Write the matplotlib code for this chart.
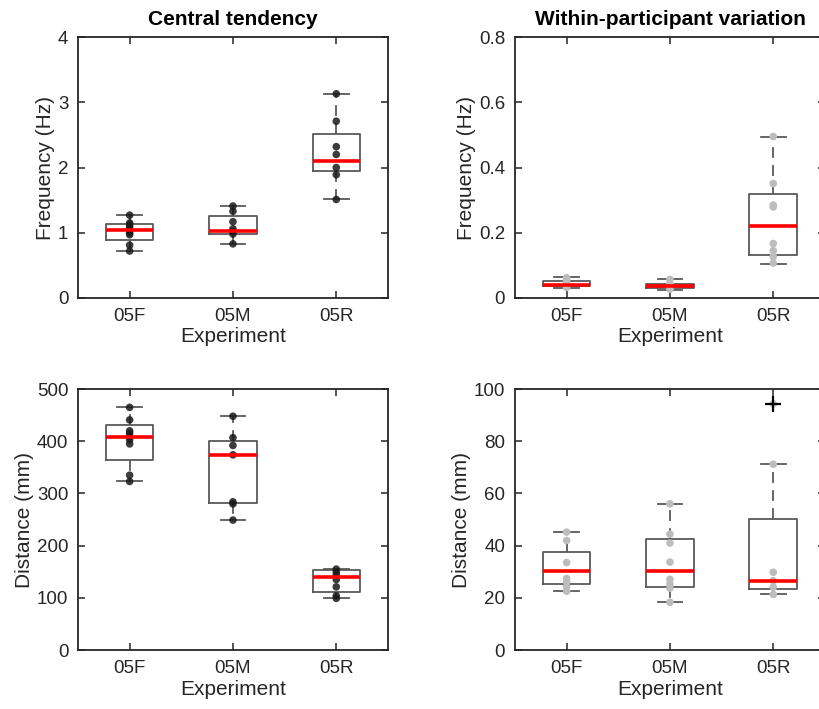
import matplotlib
matplotlib.use('Agg')
from matplotlib import pyplot as plt
import numpy as np

plt.rcParams['font.family'] = ['Liberation Sans', 'DejaVu Sans']

labels = ['05F', '05M', '05R']

# top-left: frequency, central tendency
freq_pts = [[1.27, 1.15, 1.12, 1.08, 1.04, 1.00, 0.97, 0.81, 0.72],
            [1.41, 1.33, 1.17, 1.06, 1.02, 0.98, 0.83],
            [3.13, 2.71, 2.32, 2.20, 2.00, 1.89, 1.51]]
freq_lo = [0.715, 0.83, 1.51]
freq_q1 = [0.89, 0.975, 1.94]
freq_med = [1.05, 1.02, 2.10]
freq_q3 = [1.13, 1.26, 2.51]
freq_hi = [1.28, 1.41, 3.13]

# top-right: frequency, within-participant variation
fvar_pts = [[0.062, 0.055, 0.045, 0.038, 0.032],
            [0.057, 0.045, 0.038, 0.033, 0.027],
            [0.495, 0.351, 0.285, 0.279, 0.167, 0.145, 0.127, 0.107]]
fvar_lo = [0.030, 0.025, 0.105]
fvar_q1 = [0.036, 0.030, 0.131]
fvar_med = [0.041, 0.038, 0.222]
fvar_q3 = [0.053, 0.044, 0.318]
fvar_hi = [0.063, 0.058, 0.495]

# bottom-left: distance, central tendency
dist_pts = [[465, 441, 420, 415, 409, 403, 395, 335, 323],
            [448, 407, 392, 374, 284, 280, 249],
            [155, 150, 144, 135, 121, 104, 99]]
dist_lo = [323, 249, 99]
dist_q1 = [365, 282, 112]
dist_med = [409, 374, 139]
dist_q3 = [431, 400, 153]
dist_hi = [465, 448, 155]

# bottom-right: distance, within-participant variation
dvar_pts = [[45.2, 42.0, 33.5, 27.4, 26.1, 24.2, 22.5],
            [56.0, 44.4, 41.0, 33.7, 27.1, 25.3, 23.7, 18.3],
            [94.4, 71.2, 29.8, 26.6, 24.1, 21.3]]
dvar_lo = [22.5, 18.3, 21.3]
dvar_q1 = [25.3, 24.3, 23.4]
dvar_med = [30.3, 30.3, 26.6]
dvar_q3 = [37.6, 42.6, 50.3]
dvar_hi = [45.2, 56.0, 71.2]
dvar_out = [[], [], [94.4]]

DARK = '#262626'
BOXC = '#595959'


def draw_panel(ax, pts, lo, q1, med, q3, hi, ylim, yticks, ylabel,
               dot_color, title=None, outliers=None):
    stats = []
    for i in range(len(labels)):
        stats.append({'whislo': lo[i], 'q1': q1[i], 'med': med[i],
                      'q3': q3[i], 'whishi': hi[i],
                      'fliers': outliers[i] if outliers else []})
    ax.bxp(stats, positions=[1, 2, 3], widths=0.46, showfliers=True,
           boxprops=dict(color=BOXC, linewidth=1.3),
           whiskerprops=dict(color=BOXC, linewidth=1.3, linestyle=(0, (6, 4))),
           capprops=dict(color=BOXC, linewidth=1.3),
           capwidths=0.24,
           medianprops=dict(color='#ff0000', linewidth=2.6, zorder=5),
           flierprops=dict(marker='+', markeredgecolor='black',
                           markersize=11, markeredgewidth=1.6, zorder=6))
    for i, p in enumerate(pts):
        ax.scatter(np.full(len(p), i + 1), p, s=30, color=dot_color,
                   edgecolors='none', zorder=4)
    ax.set_xlim(0.5, 3.5)
    ax.set_ylim(*ylim)
    ax.set_yticks(yticks)
    ax.set_yticklabels([('%g' % t) for t in yticks])
    ax.set_xticks([1, 2, 3])
    ax.set_xticklabels(labels)
    ax.tick_params(direction='in', top=True, right=True, length=5,
                   width=1.1, colors=DARK, labelsize=13.5, pad=7)
    for s in ax.spines.values():
        s.set_color(DARK)
        s.set_linewidth(1.3)
    ax.set_xlabel('Experiment', fontsize=15, color=DARK, labelpad=2)
    ax.set_ylabel(ylabel, fontsize=15, color=DARK, labelpad=2)
    if title:
        ax.set_title(title, fontsize=15, fontweight='bold', pad=9)


fig = plt.figure(figsize=(8.2, 7.09), dpi=100)
ax1 = fig.add_axes([0.0951, 0.5797, 0.378, 0.368])
ax2 = fig.add_axes([0.628, 0.5797, 0.378, 0.368])
ax3 = fig.add_axes([0.0951, 0.0832, 0.378, 0.368])
ax4 = fig.add_axes([0.628, 0.0832, 0.378, 0.368])

draw_panel(ax1, freq_pts, freq_lo, freq_q1, freq_med, freq_q3, freq_hi,
           (0, 4), [0, 1, 2, 3, 4], 'Frequency (Hz)', (0.1, 0.1, 0.1, 0.85),
           title='Central tendency')
draw_panel(ax2, fvar_pts, fvar_lo, fvar_q1, fvar_med, fvar_q3, fvar_hi,
           (0, 0.8), [0, 0.2, 0.4, 0.6, 0.8], 'Frequency (Hz)', '#bdbdbd',
           title='Within-participant variation')
draw_panel(ax3, dist_pts, dist_lo, dist_q1, dist_med, dist_q3, dist_hi,
           (0, 500), [0, 100, 200, 300, 400, 500], 'Distance (mm)',
           (0.1, 0.1, 0.1, 0.85))
draw_panel(ax4, dvar_pts, dvar_lo, dvar_q1, dvar_med, dvar_q3, dvar_hi,
           (0, 100), [0, 20, 40, 60, 80, 100], 'Distance (mm)', '#bdbdbd',
           outliers=dvar_out)

fig.savefig('out.png', dpi=100)
